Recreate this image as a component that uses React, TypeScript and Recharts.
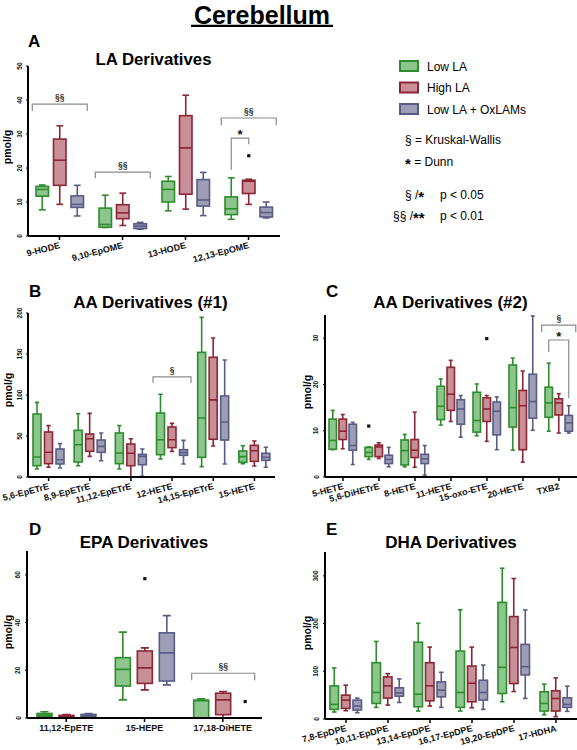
import React from 'react';
import { BarChart, Bar, XAxis, YAxis } from 'recharts';

type Box = [number, number, number, number, number]; // min, q1, median, q3, max

const FONT = '"Liberation Sans", Arial, Helvetica, sans-serif';
const SERIES_NAMES = ['Low LA', 'High LA', 'Low LA + OxLAMs'];
const STROKES = ['#2e8b2e', '#8b2636', '#585c84'];
const FILLS = ['#8cc68c', '#c98f97', '#9d9eb6'];

// ---------- Panel A: LA Derivatives ----------
const laCategories = ['9-HODE', '9,10-EpOME', '13-HODE', '12,13-EpOME'];
const laLow: Box[] = [[7.7, 11.7, 13.7, 14.6, 15.0], [2.5, 2.6, 3.4, 8.2, 12.0], [7.4, 10.0, 13.7, 16.1, 17.5], [4.9, 6.3, 8.0, 11.5, 17.1]];
const laHigh: Box[] = [[9.3, 14.9, 22.3, 28.5, 32.4], [3.1, 5.1, 6.8, 9.2, 12.6], [7.9, 12.3, 25.9, 35.4, 41.4], [9.3, 12.5, 16.1, 16.4, 16.7]];
const laOx: Box[] = [[5.9, 8.4, 9.3, 11.8, 14.9], [2.0, 2.2, 2.9, 3.6, 4.0], [6.0, 8.8, 10.6, 16.6, 18.7], [5.3, 5.6, 6.9, 8.5, 10.0]];
const laTicks = [0, 10, 20, 30, 40, 50];
const laOutliers = [{ category: '12,13-EpOME', series: 1, value: 23.6 }];
const laKruskal = [
  { category: '9-HODE', label: '§§', value: 38.8, leg: 36.8 },
  { category: '9,10-EpOME', label: '§§', value: 18.8, leg: 17.0 },
  { category: '12,13-EpOME', label: '§§', value: 34.7, leg: 32.6 },
];
const laDunn = [{ category: '12,13-EpOME', from: 0, to: 1, value: 28.8, legFrom: 19.5, legTo: 27.0 }];

// ---------- Panel B: AA Derivatives (#1) ----------
const aa1Categories = ['5,6-EpETrE', '8,9-EpETrE', '11,12-EpETrE', '12-HETE', '14,15-EpETrE', '15-HETE'];
const aa1Low: Box[] = [[9.8, 13.8, 24.4, 76.8, 91], [13.8, 18.3, 39.4, 56.9, 77.2], [9.8, 16.3, 29.3, 53.7, 62.6], [22, 27.2, 45.5, 78, 101], [12.6, 24, 72, 152, 194.7], [16.3, 17.9, 24.8, 31.7, 38.2]];
const aa1High: Box[] = [[11.8, 16.3, 30.1, 54.9, 62.6], [25.2, 31.3, 46.7, 52.4, 77.6], [0, 13.8, 28.9, 40.2, 46.7], [31.3, 35.8, 45.5, 61, 65.4], [37.8, 46, 94, 146, 169.5], [13.4, 19.1, 32.1, 38.6, 43.9]];
const aa1Ox: Box[] = [[11, 15.9, 21.1, 34.1, 40.7], [19.9, 30.1, 37.4, 45.1, 53.7], [0.8, 15, 25.2, 27.6, 34.1], [15.9, 26.4, 29.7, 33.3, 44.7], [15.9, 45.1, 67, 98.8, 142.7], [11.8, 20.3, 24, 28.9, 36.2]];
const aa1Ticks = [0, 50, 100, 150, 200];
const aa1Outliers: { category: string; series: number; value: number }[] = [];
const aa1Kruskal = [{ category: '12-HETE', label: '§', value: 122, leg: 115 }];
const aa1Dunn: { category: string; from: number; to: number; value: number; legFrom: number; legTo: number }[] = [];

// ---------- Panel C: AA Derivatives (#2) ----------
const aa2Categories = ['5-HETE', '5,6-DiHETrE', '8-HETE', '11-HETE', '15-oxo-ETE', '20-HETE', 'TXB2'];
const aa2Low: Box[] = [[5.9, 6.0, 7.9, 12.5, 14.4], [3.8, 4.4, 5.3, 6.4, 6.5], [2.2, 2.6, 5.7, 8.0, 9.2], [11.2, 12.4, 15.3, 19.6, 21.2], [8.9, 9.7, 12.2, 18.3, 20.1], [5.8, 10.8, 15.0, 24.2, 25.7], [9.9, 12.9, 16.0, 19.4, 24.6]];
const aa2High: Box[] = [[6.1, 8.1, 9.9, 12.5, 13.5], [4.0, 4.4, 6.5, 6.9, 7.4], [2.1, 4.2, 5.8, 8.1, 14.0], [12.0, 14.4, 17.9, 23.7, 25.2], [7.7, 12.0, 14.7, 17.1, 17.6], [3.2, 5.9, 15.4, 18.7, 22.9], [9.5, 13.4, 16.0, 16.9, 18.0]];
const aa2Ox: Box[] = [[2.7, 5.8, 6.8, 11.4, 11.8], [2.2, 2.9, 3.8, 4.7, 6.4], [0.4, 2.9, 3.9, 4.9, 6.8], [8.6, 11.4, 14.7, 16.7, 17.6], [5.9, 9.1, 14.2, 16.2, 17.3], [10.1, 12.7, 16.3, 22.2, 34.8], [9.5, 9.9, 11.7, 13.3, 15.4]];
const aa2Ticks = [0, 10, 20, 30];
const aa2Outliers = [
  { category: '5,6-DiHETrE', series: 0, value: 11.0 },
  { category: '15-oxo-ETE', series: 1, value: 29.9 },
];
const aa2Kruskal = [{ category: 'TXB2', label: '§', value: 32.8, leg: 31.3 }];
const aa2Dunn = [{ category: 'TXB2', from: 0, to: 2, value: 29.6, legFrom: 27.0, legTo: 17.0 }];

// ---------- Panel D: EPA Derivatives ----------
const epaCategories = ['11,12-EpETE', '15-HEPE', '17,18-DiHETE'];
const epaLow: Box[] = [[0.4, 0.7, 1.2, 1.9, 2.6], [7.6, 13.4, 20.4, 25.3, 36.0], [0, 0, 7.3, 7.5, 8.0]];
const epaHigh: Box[] = [[0.3, 0.4, 0.7, 1.1, 1.4], [11.8, 14.5, 21.0, 28.1, 29.4], [0, 1.4, 7.6, 10.4, 11.1]];
const epaOx: Box[] = [[0.4, 0.6, 1.0, 1.5, 1.9], [13.9, 15.5, 27.3, 35.7, 42.9], [0, 0, 0, 0, 0]];
const epaTicks = [0, 20, 40, 60];
const epaOutliers = [
  { category: '15-HEPE', series: 1, value: 58.4 },
  { category: '17,18-DiHETE', series: 2, value: 6.9 },
];
const epaKruskal = [{ category: '17,18-DiHETE', label: '§§', value: 18.75, leg: 15.8 }];
const epaDunn: { category: string; from: number; to: number; value: number; legFrom: number; legTo: number }[] = [];

// ---------- Panel E: DHA Derivatives ----------
const dhaCategories = ['7,8-EpDPE', '10,11-EpDPE', '13,14-EpDPE', '16,17-EpDPE', '19,20-EpDPE', '17-HDHA'];
const dhaLow: Box[] = [[14.6, 20.1, 30.6, 69.4, 107], [24.3, 32.6, 55.6, 118, 162.5], [16.7, 25.7, 52, 161, 200.7], [16.7, 24.3, 55.6, 142.4, 229], [36.1, 53.5, 108.3, 244.4, 316], [9.0, 16.7, 32.6, 57, 72.9]];
const dhaHigh: Box[] = [[17.4, 22.2, 39.6, 50, 70.8], [29.2, 43.8, 69.4, 88.2, 95.1], [27.1, 38.2, 69.4, 118, 150.7], [23.6, 36.1, 75, 111, 150.7], [57.6, 74.3, 150, 214.6, 294.4], [4.9, 16.7, 43, 59, 86.1]];
const dhaOx: Box[] = [[13.2, 18.8, 27.1, 39.6, 43.8], [34.7, 47.9, 54.9, 65.3, 84], [24.3, 46.5, 60.4, 77.8, 97.9], [20.1, 39.6, 55.6, 81.2, 113], [43.1, 92.4, 109.7, 156.3, 228.5], [16, 24.3, 30.6, 44.4, 68.8]];
const dhaTicks = [0, 100, 200, 300];
const dhaOutliers: { category: string; series: number; value: number }[] = [];
const dhaKruskal: { category: string; label: string; value: number; leg: number }[] = [];
const dhaDunn: { category: string; from: number; to: number; value: number; legFrom: number; legTo: number }[] = [];

// ---------- components ----------
function BoxShape(props: any) {
  const { x, y, width, height, payload, si, yTop, spacing, bracketHalf } = props;
  if (!payload) return null;
  const py = (v: number) => y + height * (1 - v / yTop);
  const [mn, q1, md, q3, mx] = payload.boxes[si] as Box;
  const cx = x + width / 2;
  const capHalf = width * 0.27;
  const stroke = STROKES[si];
  const sw = 1.6;
  const parts: React.ReactNode[] = [];
  if (mx > q3) parts.push(<line key="wt" x1={cx} x2={cx} y1={py(mx)} y2={py(q3)} stroke={stroke} strokeWidth={sw} />);
  if (q1 > mn) parts.push(<line key="wb" x1={cx} x2={cx} y1={py(q1)} y2={py(mn)} stroke={stroke} strokeWidth={sw} />);
  parts.push(<line key="ct" x1={cx - capHalf} x2={cx + capHalf} y1={py(mx)} y2={py(mx)} stroke={stroke} strokeWidth={sw} />);
  parts.push(<line key="cb" x1={cx - capHalf} x2={cx + capHalf} y1={py(mn)} y2={py(mn)} stroke={stroke} strokeWidth={sw} />);
  parts.push(<rect key="bx" x={x} width={width} y={py(q3)} height={Math.max(0, py(q1) - py(q3))} fill={FILLS[si]} stroke={stroke} strokeWidth={sw} />);
  parts.push(<line key="md" x1={x} x2={x + width} y1={py(md)} y2={py(md)} stroke={stroke} strokeWidth={sw} />);
  (payload.outliers || []).filter((o: any) => o.series === si).forEach((o: any, k: number) => {
    parts.push(<rect key={'o' + k} x={cx - 1.6} y={py(o.value) - 1.6} width={3.2} height={3.2} fill="#111" />);
  });
  if (si === 0) {
    const center = cx + spacing;
    (payload.kruskal || []).forEach((b: any, k: number) => {
      const x1 = center - bracketHalf;
      const x2 = center + bracketHalf;
      const yl = py(b.value);
      const yg = py(b.leg);
      parts.push(<path key={'kw' + k} d={`M${x1},${yg}L${x1},${yl}L${x2},${yl}L${x2},${yg}`} fill="none" stroke="#8a8a8a" strokeWidth={1.2} />);
      parts.push(<text key={'kwt' + k} x={center} y={yl - 4} textAnchor="middle" fontSize={8.5} fontWeight="bold" fill="#333" fontFamily={FONT}>{b.label}</text>);
    });
    (payload.dunn || []).forEach((d: any, k: number) => {
      const ax = cx + d.from * spacing;
      const bx = cx + d.to * spacing;
      const yl = py(d.value);
      parts.push(<path key={'dn' + k} d={`M${ax},${py(d.legFrom)}L${ax},${yl}L${bx},${yl}L${bx},${py(d.legTo)}`} fill="none" stroke="#8a8a8a" strokeWidth={1.2} />);
      parts.push(<text key={'dnt' + k} x={(ax + bx) / 2} y={yl + 1} textAnchor="middle" fontSize={13} fontWeight="bold" fill="#111" fontFamily={FONT}>*</text>);
    });
  }
  return <g>{parts}</g>;
}

const YTick = (props: any) => {
  const { x, y, payload } = props;
  const bx = x - 1.5;
  return (
    <text x={bx} y={y} transform={`rotate(-90 ${bx} ${y})`} textAnchor="middle" fontSize={6.5} fontWeight="bold" fill="#111" fontFamily={FONT}>
      {payload.value}
    </text>
  );
};

const RotTick = (props: any) => {
  const { x, y, payload } = props;
  const tx = x + 1;
  const ty = y + 6;
  return (
    <text x={tx} y={ty} transform={`rotate(-14.5 ${tx} ${ty})`} textAnchor="end" fontSize={9} fontWeight="bold" fill="#111" fontFamily={FONT}>
      {payload.value}
    </text>
  );
};

const FlatTick = (props: any) => {
  const { x, y, payload } = props;
  return (
    <text x={x} y={y + 7} textAnchor="middle" fontSize={9} fontWeight="bold" fill="#111" fontFamily={FONT}>
      {payload.value}
    </text>
  );
};

type Layout = { left: number; top: number; width: number; height: number; yAxisWidth: number; barSize: number; barGap: number; bracketHalf: number; rotate: boolean };

function Panel(p: {
  layout: Layout; cats: string[]; low: Box[]; high: Box[]; ox: Box[]; ticks: number[]; yTop: number;
  outliers: any[]; kruskal: any[]; dunn: any[];
}) {
  const { layout, cats, low, high, ox, ticks, yTop, outliers, kruskal, dunn } = p;
  const data = cats.map((name, i) => ({
    name,
    boxes: [low[i], high[i], ox[i]],
    outliers: outliers.filter((o) => o.category === name),
    kruskal: kruskal.filter((k) => k.category === name),
    dunn: dunn.filter((d) => d.category === name),
  }));
  const spacing = layout.barSize + layout.barGap;
  return (
    <div style={{ position: 'absolute', left: layout.left, top: layout.top }}>
      <BarChart width={layout.width} height={layout.height} data={data} margin={{ top: 16, right: 0, bottom: 0, left: 0 }} barSize={layout.barSize} barGap={layout.barGap}>
        <XAxis dataKey="name" interval={0} height={30} axisLine={{ stroke: '#000', strokeWidth: 2 }} tickLine={{ stroke: '#000', strokeWidth: 1.5 }} tickSize={4} tickMargin={2}
          tick={(tp: any) => (layout.rotate ? <RotTick {...tp} /> : <FlatTick {...tp} />)} />
        <YAxis type="number" domain={[0, yTop]} ticks={ticks} interval={0} width={layout.yAxisWidth} allowDataOverflow
          axisLine={{ stroke: '#000', strokeWidth: 2 }} tickLine={{ stroke: '#000', strokeWidth: 1 }} tickSize={2} tickMargin={3}
          tick={(tp: any) => <YTick {...tp} />} />
        {[0, 1, 2].map((si) => (
          <Bar key={si} name={SERIES_NAMES[si]} dataKey={() => [0, yTop]} isAnimationActive={false}
            shape={(sp: any) => <BoxShape {...sp} si={si} yTop={yTop} spacing={spacing} bracketHalf={layout.bracketHalf} />} />
        ))}
      </BarChart>
    </div>
  );
}

const LAYOUT_A: Layout = { left: 0, top: 50, width: 280, height: 216, yAxisWidth: 28, barSize: 12.5, barGap: 5, bracketHalf: 27.5, rotate: true };
const LAYOUT_B: Layout = { left: 0, top: 297, width: 275, height: 210, yAxisWidth: 28, barSize: 8, barGap: 3.5, bracketHalf: 19, rotate: true };
const LAYOUT_C: Layout = { left: 297, top: 299, width: 280, height: 208, yAxisWidth: 28, barSize: 7.5, barGap: 2.5, bracketHalf: 17, rotate: true };
const LAYOUT_D: Layout = { left: 0, top: 535, width: 262, height: 213, yAxisWidth: 27, barSize: 15, barGap: 7, bracketHalf: 31.5, rotate: false };
const LAYOUT_E: Layout = { left: 297, top: 536, width: 280, height: 213, yAxisWidth: 28, barSize: 8.5, barGap: 3, bracketHalf: 0, rotate: true };

function Overlay() {
  const t = (x: number, y: number, s: string, size: number, weight: any = 'bold', anchor: any = 'start') => (
    <text x={x} y={y} fontSize={size} fontWeight={weight} textAnchor={anchor} fill="#000" fontFamily={FONT}>{s}</text>
  );
  const pmol = (x: number, y: number, key: string) => (
    <text key={key} x={x} y={y} transform={`rotate(-90 ${x} ${y})`} textAnchor="middle" fontSize={10.5} fontWeight="bold" fill="#000" fontFamily={FONT}>pmol/g</text>
  );
  return (
    <svg width={577} height={750} style={{ position: 'absolute', left: 0, top: 0, pointerEvents: 'none' }}>
      {t(262, 23.5, 'Cerebellum', 25, 'bold', 'middle')}
      <line x1={191} x2={333} y1={25.8} y2={25.8} stroke="#000" strokeWidth={2.2} />
      {t(28, 47, 'A', 17)}
      {t(29, 297, 'B', 17)}
      {t(326, 297, 'C', 17)}
      {t(29, 535, 'D', 17)}
      {t(326, 535, 'E', 17)}
      {t(153.5, 65, 'LA Derivatives', 16.8, 'bold', 'middle')}
      {t(150.5, 308, 'AA Derivatives (#1)', 17, 'bold', 'middle')}
      {t(450.5, 308, 'AA Derivatives (#2)', 17, 'bold', 'middle')}
      {t(144, 548, 'EPA Derivatives', 17, 'bold', 'middle')}
      {t(451, 548, 'DHA Derivatives', 17, 'bold', 'middle')}
      {pmol(11, 147, 'pa')}
      {pmol(11.5, 390, 'pb')}
      {pmol(311, 392, 'pc')}
      {pmol(12, 632, 'pd')}
      {pmol(311, 633, 'pe')}
      {SERIES_NAMES.map((n, i) => (
        <g key={n}>
          <rect x={400} y={61 + i * 21.5} width={18} height={10} fill={FILLS[i]} stroke={STROKES[i]} strokeWidth={2} />
          <text x={427} y={70.5 + i * 21.5} fontSize={12} fill="#000" fontFamily={FONT}>{n}</text>
        </g>
      ))}
      <text x={405} y={144} fontSize={12} fill="#000" fontFamily={FONT}>§ = Kruskal-Wallis</text>
      <text x={405} y={166} fontSize={12} fill="#000" fontFamily={FONT}><tspan fontWeight="bold" fontSize={15} dy={3}>*</tspan><tspan dy={-3}> = Dunn</tspan></text>
      <text x={405} y={199} fontSize={12} fill="#000" fontFamily={FONT}>§ /<tspan fontWeight="bold" fontSize={15} dy={3}>*</tspan></text>
      <text x={440} y={199} fontSize={12} fill="#000" fontFamily={FONT}>p &lt; 0.05</text>
      <text x={393} y={220} fontSize={12} fill="#000" fontFamily={FONT}>§§ /<tspan fontWeight="bold" fontSize={15} dy={3}>**</tspan></text>
      <text x={440} y={220} fontSize={12} fill="#000" fontFamily={FONT}>p &lt; 0.01</text>
    </svg>
  );
}

export default function App() {
  return (
    <div style={{ position: 'absolute', left: 0, top: 0, width: 577, height: 750, background: '#fff', fontFamily: FONT, overflow: 'hidden' }}>
      <style>{'svg { overflow: visible; }'}</style>
      <Panel layout={LAYOUT_A} cats={laCategories} low={laLow} high={laHigh} ox={laOx} ticks={laTicks} yTop={50} outliers={laOutliers} kruskal={laKruskal} dunn={laDunn} />
      <Panel layout={LAYOUT_B} cats={aa1Categories} low={aa1Low} high={aa1High} ox={aa1Ox} ticks={aa1Ticks} yTop={200} outliers={aa1Outliers} kruskal={aa1Kruskal} dunn={aa1Dunn} />
      <Panel layout={LAYOUT_C} cats={aa2Categories} low={aa2Low} high={aa2High} ox={aa2Ox} ticks={aa2Ticks} yTop={35} outliers={aa2Outliers} kruskal={aa2Kruskal} dunn={aa2Dunn} />
      <Panel layout={LAYOUT_D} cats={epaCategories} low={epaLow} high={epaHigh} ox={epaOx} ticks={epaTicks} yTop={70} outliers={epaOutliers} kruskal={epaKruskal} dunn={epaDunn} />
      <Panel layout={LAYOUT_E} cats={dhaCategories} low={dhaLow} high={dhaHigh} ox={dhaOx} ticks={dhaTicks} yTop={350} outliers={dhaOutliers} kruskal={dhaKruskal} dunn={dhaDunn} />
      <Overlay />
    </div>
  );
}
